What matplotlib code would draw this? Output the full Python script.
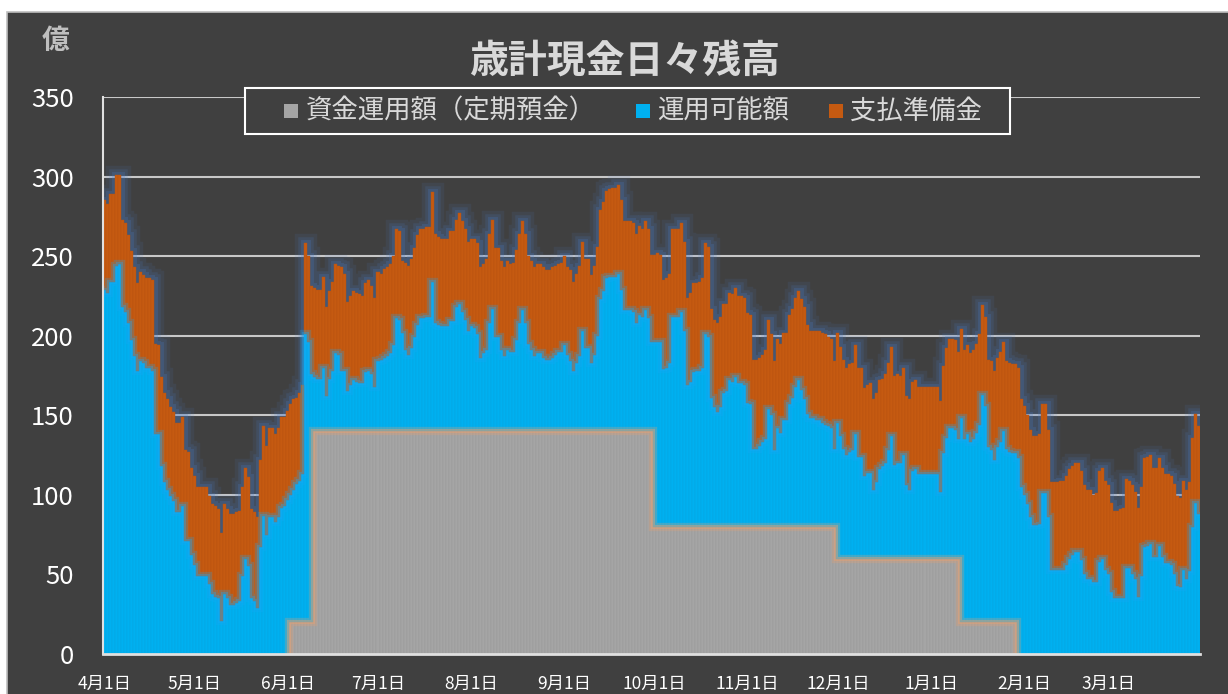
import numpy as np
import matplotlib
matplotlib.use('Agg')
import matplotlib.pyplot as plt
from matplotlib.patches import Rectangle

plt.rcParams['font.family'] = ['Noto Sans CJK JP', 'DejaVu Sans']

# ---------------- data ----------------
month_labels = ['4月1日', '5月1日', '6月1日', '7月1日', '8月1日', '9月1日',
                '10月1日', '11月1日', '12月1日', '1月1日', '2月1日', '3月1日']
month_lengths = [30, 31, 30, 31, 31, 30, 31, 30, 31, 31, 28, 31]

series_names = ['資金運用額（定期預金）', '運用可能額', '支払準備金']

# daily total balance (億円), Apr 1 .. Mar 31
total = [
    285, 283, 289, 289, 301, 301, 273, 271, 263, 253,
    243, 233, 240, 238, 236, 236, 235, 195, 194, 174,
    164, 160, 155, 152, 145, 145, 149, 128, 127, 117,
    112, 105, 105, 105, 105, 99, 94, 93, 91, 76,
    94, 91, 88, 88, 89, 90, 105, 117, 111, 91,
    89, 86, 122, 143, 131, 142, 142, 138, 142, 149,
    149, 153, 157, 160, 161, 164, 169, 258, 250, 231,
    230, 229, 229, 237, 218, 228, 234, 245, 244, 243,
    239, 221, 225, 228, 227, 226, 225, 233, 235, 231,
    224, 240, 239, 242, 243, 245, 250, 267, 266, 247,
    246, 244, 248, 255, 263, 267, 267, 268, 268, 290,
    264, 262, 261, 261, 261, 266, 266, 273, 277, 272,
    267, 259, 261, 261, 258, 243, 245, 248, 264, 273,
    255, 255, 247, 243, 247, 245, 246, 254, 264, 272,
    264, 250, 247, 243, 245, 245, 243, 241, 241, 243,
    244, 245, 246, 250, 243, 241, 234, 239, 244, 259,
    248, 248, 238, 244, 256, 279, 284, 291, 292, 293,
    293, 295, 285, 272, 272, 272, 271, 264, 269, 267,
    272, 267, 251, 251, 252, 251, 235, 236, 239, 267,
    267, 267, 271, 259, 224, 227, 233, 233, 234, 236,
    258, 256, 217, 210, 208, 212, 220, 220, 227, 226,
    230, 225, 225, 224, 214, 213, 185, 185, 186, 188,
    191, 210, 201, 184, 198, 195, 202, 202, 213, 217,
    224, 228, 223, 218, 207, 203, 203, 203, 203, 202,
    201, 199, 198, 184, 202, 193, 185, 180, 182, 183,
    194, 180, 180, 167, 169, 170, 160, 164, 172, 173,
    176, 183, 193, 175, 176, 175, 180, 162, 160, 171,
    172, 168, 168, 168, 168, 168, 168, 168, 159, 181,
    192, 198, 198, 197, 190, 204, 191, 194, 189, 191,
    195, 201, 219, 212, 185, 184, 178, 186, 190, 196,
    184, 183, 182, 182, 180, 160, 156, 150, 141, 137,
    137, 138, 157, 157, 141, 108, 108, 108, 109, 109,
    112, 116, 118, 120, 120, 115, 106, 103, 103, 100,
    101, 115, 117, 109, 106, 95, 90, 90, 91, 92,
    110, 109, 106, 102, 92, 105, 123, 124, 125, 117,
    117, 123, 117, 113, 113, 112, 107, 99, 98, 109,
    103, 108, 136, 151, 143,
]

# level of 資金運用額 + 運用可能額 (top of the blue part)
invest_plus_available = [
    229, 227, 234, 234, 244, 245, 218, 215, 208, 197,
    187, 178, 184, 183, 180, 180, 178, 138, 138, 118,
    108, 103, 99, 96, 89, 89, 93, 71, 71, 62,
    56, 49, 49, 49, 49, 44, 38, 36, 35, 21,
    38, 35, 31, 31, 32, 33, 49, 60, 55, 35,
    33, 29, 67, 87, 75, 86, 86, 83, 86, 92,
    93, 97, 100, 103, 107, 109, 113, 201, 196, 176,
    174, 173, 173, 180, 162, 173, 178, 189, 188, 178,
    178, 165, 169, 172, 171, 170, 170, 177, 178, 176,
    168, 184, 185, 186, 187, 189, 194, 211, 210, 202,
    191, 188, 192, 199, 207, 211, 211, 212, 212, 234,
    208, 207, 206, 206, 206, 209, 209, 218, 220, 215,
    210, 203, 206, 205, 201, 186, 189, 191, 208, 217,
    199, 199, 191, 187, 191, 190, 190, 197, 208, 216,
    208, 195, 191, 187, 189, 189, 186, 185, 185, 186,
    188, 190, 190, 194, 188, 184, 178, 183, 187, 203,
    192, 192, 183, 188, 200, 223, 228, 236, 237, 237,
    237, 239, 229, 216, 216, 216, 215, 208, 213, 212,
    216, 211, 196, 196, 196, 196, 179, 180, 183, 212,
    212, 212, 215, 203, 169, 171, 177, 178, 178, 180,
    201, 199, 161, 155, 152, 155, 164, 165, 172, 171,
    174, 170, 170, 169, 158, 157, 129, 129, 131, 133,
    135, 154, 150, 128, 142, 139, 147, 147, 157, 161,
    168, 172, 166, 160, 151, 148, 148, 147, 147, 145,
    144, 143, 142, 129, 145, 137, 129, 125, 127, 128,
    138, 124, 124, 112, 114, 114, 103, 108, 116, 118,
    120, 128, 137, 119, 120, 120, 125, 106, 103, 115,
    116, 113, 113, 113, 113, 113, 113, 113, 102, 126,
    136, 142, 142, 141, 135, 148, 135, 138, 133, 135,
    139, 144, 163, 156, 130, 128, 122, 130, 133, 140,
    129, 127, 126, 126, 123, 105, 100, 94, 86, 81,
    81, 82, 101, 101, 86, 53, 53, 53, 53, 53,
    56, 60, 62, 64, 64, 59, 50, 47, 47, 45,
    45, 58, 60, 53, 50, 39, 35, 35, 35, 35,
    54, 54, 50, 47, 36, 49, 67, 68, 69, 61,
    61, 68, 61, 57, 57, 56, 50, 43, 42, 53,
    47, 52, 80, 95, 88,
]

# 資金運用額 (定期預金): constant levels and the number of days each lasts
invest_levels = [0, 20, 140, 80, 60, 20, 0]
invest_days = [62, 8, 113, 61, 41, 19, 61]

# ---------------- derived series ----------------
invest = np.repeat(invest_levels, invest_days).astype(float)
level_ib = np.array(invest_plus_available, dtype=float)
tot = np.array(total, dtype=float)
available = level_ib - invest
reserve = tot - level_ib
n = len(tot)
x = np.arange(n)
edges = np.arange(n + 1) - 0.5

BG = '#404040'
C_GRAY = '#A5A5A5'
C_BLUE = '#00B0F0'
C_ORANGE = '#C55A11'
colors = [C_GRAY, C_BLUE, C_ORANGE]

W, H = 1228, 694
fig = plt.figure(figsize=(W / 100, H / 100), dpi=100, facecolor='white')
fig.patches.append(Rectangle((7 / W, -0.01), 1.02, 1 - 12 / H + 0.01,
                             transform=fig.transFigure, facecolor=BG,
                             edgecolor='#BFBFBF', lw=1.2, zorder=-10))

ax = fig.add_axes([103 / W, 40 / H, 1097 / W, 557 / H])
ax.set_facecolor(BG)
ax.patch.set_alpha(0)

# glow behind the stack (visible only over the background)
for lw, a in [(14, 0.11), (9, 0.15), (5, 0.22)]:
    ax.stairs(tot, edges, baseline=None, color='#4A7CC8', lw=lw, alpha=a, zorder=1.5)

ax.bar(x, invest, width=1.0, color=C_GRAY, edgecolor='#979797', lw=0.3, zorder=2,
       label=series_names[0])
ax.bar(x, available, bottom=invest, width=1.0, color=C_BLUE, edgecolor='#06A4E0', lw=0.3,
       zorder=2, label=series_names[1])
ax.bar(x, reserve, bottom=level_ib, width=1.0, color=C_ORANGE, edgecolor='#B85210', lw=0.3,
       zorder=2, label=series_names[2])

# glow at the top of blue and gray parts
for lw, a in [(6, 0.25), (3, 0.35)]:
    ax.stairs(level_ib, edges, baseline=None, color='#1AA8F5', lw=lw, alpha=a, zorder=3)
nz = np.nonzero(invest)[0]
s, e = nz[0], nz[-1] + 1
for lw, a in [(6, 0.28), (3, 0.45)]:
    ax.stairs(invest[s:e], edges[s:e + 1], baseline=0, color='#E8A070', lw=lw, alpha=a, zorder=3)

ax.set_xlim(-0.5, n - 0.5)
ax.set_ylim(0, 350)
ax.set_yticks(np.arange(0, 351, 50))
ax.yaxis.grid(True, color='#C8C8C8', lw=1.5, zorder=1)
ax.set_axisbelow(True)

month_starts = np.cumsum([0] + month_lengths[:-1])
ax.set_xticks(month_starts)
ax.set_xticklabels(month_labels)
ax.tick_params(axis='x', length=0, pad=15, labelsize=12.5, labelcolor='white')
ax.tick_params(axis='y', length=0, pad=21, labelsize=18.5, labelcolor='white')

for side in ['top', 'right']:
    ax.spines[side].set_visible(False)
ax.spines['left'].set_color('#E0E0E0')
ax.spines['left'].set_linewidth(1.5)
ax.spines['bottom'].set_color('#E0E0E0')
ax.spines['bottom'].set_linewidth(2)
ax.spines['left'].set_zorder(5)
ax.spines['bottom'].set_zorder(5)

fig.text(625 / W, 1 - 61 / H, '歳計現金日々残高', ha='center', va='center',
         fontsize=28, fontweight='bold', color='#D9D9D9')
fig.text(56 / W, 1 - 41 / H, '億', ha='center', va='center',
         fontsize=20, fontweight='bold', color='#BFBFBF')

# legend box with manually placed entries
lx0, lx1, ly0, ly1 = 245, 1010, 88, 134
fig.patches.append(Rectangle((lx0 / W, 1 - ly1 / H), (lx1 - lx0) / W, (ly1 - ly0) / H,
                             transform=fig.transFigure, facecolor=BG,
                             edgecolor='white', lw=1.5, zorder=8))
marker_x = [284, 636, 829]
text_x = [306, 657, 850]
ly = (ly0 + ly1) / 2
msz = 14
for mx, tx, c, name in zip(marker_x, text_x, colors, series_names):
    fig.patches.append(Rectangle((mx / W, 1 - (ly + msz / 2) / H), msz / W, msz / H,
                                 transform=fig.transFigure, facecolor=c,
                                 edgecolor='none', zorder=9))
    fig.text(tx / W, 1 - ly / H, name, ha='left', va='center', fontsize=19,
             color='#D9D9D9', zorder=10)

fig.savefig('out.png', dpi=100, facecolor=fig.get_facecolor())
